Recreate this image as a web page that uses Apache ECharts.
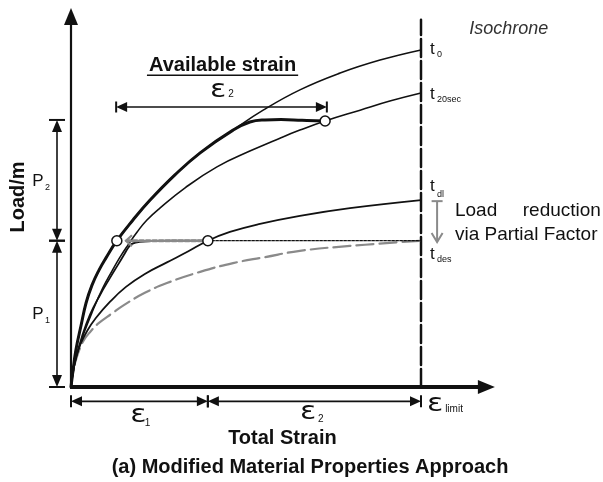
<!DOCTYPE html>
<html><head><meta charset="utf-8">
<script src="https://cdn.jsdelivr.net/npm/echarts@6/dist/echarts.min.js"></script>
<style>html,body{margin:0;padding:0;background:#fff}#c{width:603px;height:482px}</style>
</head><body><div id="c"></div>
<script>
// ---- data (strain units: 0 = origin, 100 = ε_limit ; load units: 0 = origin) ----
const t0 = [[0,0],[0.6,4.9],[1.4,10.6],[2.9,17.7],[4.3,24],[6,29.1],[8,33.4],[10,36.9],[13.1,41.8],[17.7,47.7],[22.6,53.4],[29.7,60.6],[36.9,66.9],[46.3,73.4],[54.9,79.1],[65.4,84.9],[76.9,89.7],[88.3,93.4],[100,96.3]];
const modified = [[0,0],[0.6,4.9],[1.4,10.6],[2.9,17.7],[4.3,24],[6,29.1],[8,33.4],[10,36.9],[13.1,41.8],[17.7,47.7],[22.6,53.4],[29.7,60.6],[36.9,66.9],[46.3,73.4],[51.1,75.7],[55.4,76.3],[60,76.4],[66,76.2],[72.6,76]];
const t20sec = [[0,0],[0.6,4.3],[1.7,9.1],[3.7,15.4],[6.3,22],[9.1,28.3],[11.7,33.1],[14,37.1],[16.3,40.6],[18.9,44.3],[21.7,47.7],[25.4,51.1],[32.6,56.9],[41.7,62.9],[51.1,67.4],[59.7,71.1],[65.4,73.4],[72.6,76],[82.6,79.1],[91.1,81.7],[100,84]];
const tdl = [[0,0],[0.6,4.9],[1.4,8.6],[2.6,12],[4.6,16],[7.1,19.7],[11.1,24.3],[15.7,28.6],[21.1,32.3],[27.4,35.6],[33.4,38.7],[39.1,41.8],[45.4,44.3],[54,46.6],[65.4,48.9],[79.7,51.1],[100,53.4]];
const tdes = [[0,0],[0.6,4.3],[1.4,7.7],[3.4,12.9],[5.7,16],[8,18.3],[11.7,21],[15.1,23.4],[21.1,26.9],[27.4,29.7],[36.9,32.9],[46.3,35.4],[55.4,37.1],[65.4,38.9],[79.7,40.3],[100,41.8]];
const creep = [[0,0],[0.6,4.3],[1.4,8.3],[3.1,14.3],[5.4,20.6],[8.3,26.3],[11.1,31.1],[13.4,34.9],[15.1,37.7],[16.3,39.7],[17.4,40.9],[19.7,41.5],[28.3,41.8],[39.1,41.8]];
const circles = [[13.1,41.8],[39.1,41.8],[72.6,76]];
const P1 = 41.8, P12 = 76.3;
const eps1 = 39.1, epsLimit = 100;
const availFrom = 12.9, availTo = 73.1, availY = 80;
const reduceFrom = 53.1, reduceTo = 41.4;
const isoTop = 104.9;

const FONT = '"Liberation Sans", Arial, sans-serif';

const chart = echarts.init(document.getElementById('c'), null, {renderer: 'canvas'});

function lineSeries(data, color, width, type, z, smooth) {
  return {type: 'line', data: data, showSymbol: false, symbol: 'none', smooth: smooth == null ? 0.45 : smooth,
    z: z || 2, silent: true,
    lineStyle: {color: color, width: width, type: type || 'solid', cap: 'round', join: 'round'}};
}

function renderAnno(params, api) {
  const c = p => api.coord(p);
  const ch = [];
  const BLK = '#111';
  function seg(a, b, w, col) { ch.push({type: 'line', shape: {x1: a[0], y1: a[1], x2: b[0], y2: b[1]}, style: {stroke: col || BLK, lineWidth: w || 1.5}}); }
  function head(tip, dir, len, wid, col) {
    const bx = tip[0] - dir[0] * len, by = tip[1] - dir[1] * len, px = -dir[1], py = dir[0];
    ch.push({type: 'polygon', shape: {points: [tip, [bx + px * wid / 2, by + py * wid / 2], [bx - px * wid / 2, by - py * wid / 2]]}, style: {fill: col || BLK}});
  }
  function chevron(tip, dir, len, wid, col, w) {
    const bx = tip[0] - dir[0] * len, by = tip[1] - dir[1] * len, px = -dir[1], py = dir[0];
    ch.push({type: 'polyline', shape: {points: [[bx + px * wid / 2, by + py * wid / 2], tip, [bx - px * wid / 2, by - py * wid / 2]]}, style: {stroke: col, lineWidth: w, fill: null}});
  }
  function dim(a, b, bar, len, wid) {
    const A = c(a), B = c(b);
    const L = Math.hypot(B[0] - A[0], B[1] - A[1]), ux = (B[0] - A[0]) / L, uy = (B[1] - A[1]) / L;
    seg([A[0] + ux * 4, A[1] + uy * 4], [B[0] - ux * 4, B[1] - uy * 4], 1.6);
    head(A, [-ux, -uy], len, wid); head(B, [ux, uy], len, wid);
    const px = -uy, py = ux;
    seg([A[0] + px * bar, A[1] + py * bar], [A[0] - px * bar, A[1] - py * bar], 2);
    seg([B[0] + px * bar, B[1] + py * bar], [B[0] - px * bar, B[1] - py * bar], 2);
  }
  function txt(p, s, font, align, col, rot, sx) {
    const q = c(p);
    ch.push({type: 'text', x: q[0], y: q[1], rotation: rot || 0, scaleX: sx || 1,
      style: {text: s, font: font, fill: col || BLK, align: align || 'left', verticalAlign: 'middle'}});
  }
  // axes
  const O = c([0, 0]);
  const yTip = c([0, 108.3]);
  seg(O, [yTip[0], yTip[1] + 12], 2.2);
  head(yTip, [0, -1], 17, 14);
  const xTip = c([121.1, 0]);
  seg([O[0] - 1, O[1]], [xTip[0] - 12, xTip[1]], 4);
  head(xTip, [1, 0], 17, 14);
  // dimension lines
  dim([availFrom, availY], [availTo, availY], 5.5, 11, 10);
  dim([-4, P12], [-4, P1], 8, 12, 10);
  dim([-4, P1], [-4, 0], 8, 12, 10);
  dim([0, -4.1], [eps1, -4.1], 6, 11, 10);
  dim([eps1, -4.1], [epsLimit, -4.1], 6, 11, 10);
  // gray load-reduction arrow
  const gA = c([104.6, reduceFrom]), gB = c([104.6, reduceTo]);
  seg(gA, gB, 2, '#8a8a8a');
  seg([gA[0] - 5.5, gA[1]], [gA[0] + 5.5, gA[1]], 2, '#8a8a8a');
  chevron(gB, [0, 1], 9, 11, '#8a8a8a', 2);
  // gray chevron on the dotted line
  chevron(c([15.7, P1]), [-1, 0], 6, 11, '#8a8a8a', 2.2);
  // underline of "Available strain"
  seg(c([21.7, 89.1]), c([64.9, 89.1]), 1.5);
  // texts
  const EPS = '24px "DejaVu Sans", ' + FONT;
  txt([125.1, 102.3], 'Isochrone', 'italic 18px ' + FONT, 'center', '#333');
  txt([102.6, 96.6], 't', '17px ' + FONT);
  txt([104.6, 94.9], '0', '9px ' + FONT);
  txt([102.6, 83.7], 't', '17px ' + FONT);
  txt([104.6, 82.0], '20sec', '9px ' + FONT);
  txt([102.6, 57.4], 't', '17px ' + FONT);
  txt([104.6, 55.1], 'dl', '9px ' + FONT);
  txt([102.6, 38.0], 't', '17px ' + FONT);
  txt([104.6, 36.3], 'des', '9px ' + FONT);
  txt([109.7, 50.3], 'Load', '19px ' + FONT);
  txt([151.4, 50.3], 'reduction', '19px ' + FONT, 'right');
  txt([109.7, 43.4], 'via Partial Factor', '19px ' + FONT);
  txt([43.3, 92.0], 'Available strain', 'bold 20px ' + FONT, 'center');
  txt([39.7, 84.5], 'ε', EPS, 'left', BLK, 0, 1.25);
  txt([44.9, 83.6], '2', '10px ' + FONT);
  txt([-11.1, 58.9], 'P', '17px ' + FONT);
  txt([-7.4, 57.1], '2', '9px ' + FONT);
  txt([-11.1, 20.9], 'P', '17px ' + FONT);
  txt([-7.4, 19.1], '1', '9px ' + FONT);
  txt([-14.9, 54.3], 'Load/m', 'bold 20px ' + FONT, 'center', BLK, Math.PI / 2);
  txt([16.9, -8.3], 'ε', EPS, 'left', BLK, 0, 1.25);
  txt([21.1, -10.4], '1', '10px ' + FONT);
  txt([65.4, -7.5], 'ε', EPS, 'left', BLK, 0, 1.25);
  txt([70.6, -9.3], '2', '10px ' + FONT);
  txt([101.7, -5.0], 'ε', EPS, 'left', BLK, 0, 1.25);
  txt([106.9, -6.4], 'limit', '10px ' + FONT);
  txt([60.4, -14.6], 'Total Strain', 'bold 20px ' + FONT, 'center');
  txt([68.3, -22.9], '(a) Modified Material Properties Approach', 'bold 20px ' + FONT, 'center');
  return {type: 'group', children: ch};
}

chart.setOption({
  animation: false,
  backgroundColor: '#fff',
  grid: {left: 1, right: 0, top: 2, bottom: 4},
  xAxis: {type: 'value', min: -20, max: 152, show: false},
  yAxis: {type: 'value', min: -26, max: 110, show: false},
  series: [
    lineSeries([[epsLimit, 0], [epsLimit, isoTop]], '#111', 2.5, [18, 4], 1, false),
    lineSeries(tdes, '#8a8a8a', 2.2, [17, 6], 2),
    lineSeries(tdl, '#111', 1.8, 'solid', 3),
    lineSeries(t20sec, '#111', 1.6, 'solid', 3),
    lineSeries(t0, '#111', 1.6, 'solid', 3),
    lineSeries(creep, '#111', 1.8, 'solid', 3),
    lineSeries(modified, '#111', 3, 'solid', 4),
    lineSeries([[eps1, P1], [epsLimit, P1]], '#111', 1.3, [2.5, 1.5], 3, false),
    lineSeries([[15.9, P1], [38.3, P1]], '#8a8a8a', 3, [4, 2.5], 5, false),
    {type: 'custom', coordinateSystem: 'cartesian2d', data: [[0, 0]], silent: true, z: 6, clip: false, renderItem: renderAnno},
    {type: 'scatter', data: circles, symbol: 'circle', symbolSize: 10, z: 8, silent: true,
      itemStyle: {color: '#fff', borderColor: '#111', borderWidth: 1.5, opacity: 1}}
  ]
});
</script></body></html>
